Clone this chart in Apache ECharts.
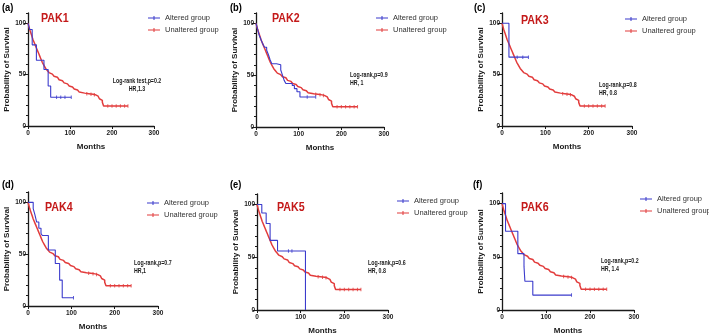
<!DOCTYPE html>
<html>
<head>
<meta charset="utf-8">
<script src="https://cdn.jsdelivr.net/npm/echarts@6/dist/echarts.min.js"></script>
<style>
  html, body, #main { width: 709px; height: 336px; margin: 0; background: #fff; }
</style>
</head>
<body>
<div id="main"></div>
<script>
// unaltered group (same cohort curve in every panel), [month, % surviving]
var unaltered = [
  [0, 100], [2, 97], [4, 94], [6, 91.5], [8, 89], [10, 86.5], [12, 84], [14, 82],
  [16, 80], [18, 78], [20, 76], [22, 74], [24, 72], [26, 70], [28, 68], [30, 66],
  [32, 64], [34, 62], [36, 60.5], [38, 59], [40, 57.5], [42, 56], [44, 55], [46, 54],
  [48, 53], [50, 52], [54, 50.5], [58, 49.5], [62, 48.5], [66, 47.5], [70, 46.5],
  [74, 45], [78, 44], [82, 43], [86, 42], [90, 41], [94, 40], [98, 39], [102, 38],
  [106, 37], [110, 36], [114, 35], [118, 34], [122, 33], [126, 32], [135, 31.5],
  [145, 31], [155, 30.5], [160, 30], [163, 29], [167, 28], [170, 26.5], [174, 25],
  [177, 23], [180, 19.5], [238, 19.5]
];
var unalteredCensored = [[140, 31.5], [150, 31], [158, 30.5], [190, 19.5], [200, 19.5],
  [210, 19.5], [220, 19.5], [230, 19.5], [238, 19.5]];

var alteredPAK1 = [[0, 100], [4, 94], [10, 79], [20, 64], [38, 55], [48, 39], [54, 28], [103, 28]];
var alteredPAK2 = [[0, 100], [4, 94], [8, 88], [12, 84], [16, 80], [20, 77], [25, 74], [29, 70],
  [33, 65], [37, 61], [48, 60], [58, 55], [62, 50], [66, 45], [70, 42], [85, 40], [90, 37],
  [96, 34], [103, 29], [140, 29]];
var alteredPAK3 = [[0, 100], [16, 67], [61, 67]];
var alteredPAK4 = [[0, 100], [12, 94], [16, 88], [20, 81], [25, 75], [30, 70], [33, 68],
  [47, 54], [63, 41], [73, 25], [79, 8], [105, 8]];
var alteredPAK5 = [[0, 100], [11, 92], [21, 82], [30, 66], [47, 56], [111, 56], [111, 0]];
var alteredPAK6 = [[0, 100], [8, 74], [36, 53], [50, 41], [52, 27], [70, 14], [158, 14]];

var censoredPAK1 = [[68, 28], [78, 28], [88, 28], [103, 28]];
var censoredPAK2 = [[120, 29], [140, 29]];
var censoredPAK3 = [[35, 67], [48, 67], [61, 67]];
var censoredPAK4 = [[105, 8]];
var censoredPAK5 = [[72, 56], [80, 56]];
var censoredPAK6 = [[158, 14]];

var genes = ['PAK1', 'PAK2', 'PAK3', 'PAK4', 'PAK5', 'PAK6'];
var tags = ['(a)', '(b)', '(c)', '(d)', '(e)', '(f)'];
var altered = [alteredPAK1, alteredPAK2, alteredPAK3, alteredPAK4, alteredPAK5, alteredPAK6];
var censored = [censoredPAK1, censoredPAK2, censoredPAK3, censoredPAK4, censoredPAK5, censoredPAK6];
var stats = [
  ['Log-rank test,p=0.2', 'HR,1.3'],
  ['Log-rank,p=0.9', 'HR, 1'],
  ['Log-rank,p=0.8', 'HR, 0.8'],
  ['Log-rank,p=0.7', 'HR,1'],
  ['Log-rank,p=0.6', 'HR, 0.8'],
  ['Log-rank,p=0.2', 'HR, 1.4']
];
var xTicks = { min: 0, max: 300, step: 100 };
var yTicks = [0, 50, 100];

// layout of each panel (pixels)
var boxes = [
  { left: 28, top: 13, width: 126, height: 113, tag: [2, 8], gene: [41, 18], leg: [148, 14], st: [137, 81, 'center'] },
  { left: 256, top: 13, width: 128, height: 114, tag: [230, 8], gene: [272, 18], leg: [376, 14], st: [350, 75, 'left'] },
  { left: 502, top: 13, width: 130, height: 113, tag: [474, 8], gene: [521, 20], leg: [625, 15], st: [599, 85, 'left'] },
  { left: 28, top: 192, width: 130, height: 114, tag: [2, 185], gene: [45, 207], leg: [147, 199], st: [134, 263, 'left'] },
  { left: 257, top: 194, width: 131, height: 117, tag: [230, 185], gene: [277, 207], leg: [397, 197], st: [368, 263, 'left'] },
  { left: 502, top: 193, width: 132, height: 117, tag: [473, 185], gene: [521, 207], leg: [640, 195], st: [601, 261, 'left'] }
];

var FONT = "'Liberation Sans', Arial, sans-serif";
var INK = '#1a1a1a';
var BLUE = '#3b3bcc';
var RED = '#e23c3c';
// legend glyph: short line with a small censor tick
var LEG_ICON = 'path://M0,4.5L12,4.5L12,5.5L0,5.5Z M5.5,3L6.5,3L6.5,7L5.5,7Z';

var chart = echarts.init(document.getElementById('main'), null, { renderer: 'canvas' });

var grid = [], xAxis = [], yAxis = [], series = [], legend = [], graphic = [];

boxes.forEach(function (b, i) {
  grid.push({ left: b.left, top: b.top, width: b.width, height: b.height, containLabel: false });
  xAxis.push({
    gridIndex: i, type: 'value', min: xTicks.min, max: xTicks.max, interval: xTicks.step,
    name: 'Months', nameLocation: 'middle', nameGap: 17,
    nameTextStyle: { fontFamily: FONT, fontWeight: 'bold', fontSize: 8, color: INK },
    axisLine: { lineStyle: { color: INK, width: 1.3 } },
    axisTick: { length: 3, lineStyle: { color: INK, width: 1 } },
    axisLabel: { fontFamily: FONT, fontWeight: 'bold', fontSize: 6.5, color: INK, margin: 4 },
    splitLine: { show: false }
  });
  // minor ticks every 10
  yAxis.push({
    gridIndex: i, type: 'value', position: 'left', min: 0, max: 110, interval: 10,
    name: 'Probability of Survival', nameLocation: 'middle', nameGap: 17, nameRotate: 90,
    nameTextStyle: { fontFamily: FONT, fontWeight: 'bold', fontSize: 8, color: INK },
    axisLine: { show: true, lineStyle: { color: INK, width: 1.3 } },
    axisTick: { length: 2, lineStyle: { color: INK, width: 1 } },
    axisLabel: { show: false },
    splitLine: { show: false }
  });
  // major ticks + labels
  yAxis.push({
    gridIndex: i, type: 'value', position: 'left', offset: 0, min: 0, max: 110, interval: 10,
    axisLine: { show: false },
    axisTick: { customValues: yTicks, length: 4, lineStyle: { color: INK, width: 1 } },
    axisLabel: { customValues: yTicks, fontFamily: FONT, fontWeight: 'bold', fontSize: 6.5, color: INK, margin: 2 },
    splitLine: { show: false }
  });

  series.push({
    name: 'Unaltered group', type: 'line', step: 'end', xAxisIndex: i, yAxisIndex: 2 * i,
    data: unaltered, symbol: 'none', lineStyle: { color: RED, width: 1.5 }, itemStyle: { color: RED },
    animation: false
  });
  series.push({
    name: 'Altered group', type: 'line', step: 'end', xAxisIndex: i, yAxisIndex: 2 * i,
    data: altered[i], symbol: 'none', lineStyle: { color: BLUE, width: 1.1 }, itemStyle: { color: BLUE },
    animation: false
  });
  series.push({
    name: 'unaltered censored', type: 'scatter', xAxisIndex: i, yAxisIndex: 2 * i,
    data: unalteredCensored, symbol: 'rect', symbolSize: [1, 3.5], itemStyle: { color: RED },
    silent: true, animation: false
  });
  series.push({
    name: 'altered censored', type: 'scatter', xAxisIndex: i, yAxisIndex: 2 * i,
    data: censored[i], symbol: 'rect', symbolSize: [1, 3.5], itemStyle: { color: BLUE },
    silent: true, animation: false
  });

  legend.push({
    orient: 'vertical', left: b.leg[0], top: b.leg[1], itemGap: 4, itemWidth: 12, itemHeight: 9,
    icon: LEG_ICON,
    data: ['Altered group', 'Unaltered group'],
    textStyle: { fontFamily: FONT, fontSize: 7.5, color: '#333' },
    padding: 0, selectedMode: false
  });

  graphic.push({
    type: 'text', x: b.tag[0], y: b.tag[1], scaleX: 0.85,
    style: { text: tags[i], font: 'bold 11px ' + FONT, fill: '#000', verticalAlign: 'middle' }
  });
  graphic.push({
    type: 'text', x: b.gene[0], y: b.gene[1], scaleX: 0.82,
    style: { text: genes[i], font: 'bold 13px ' + FONT, fill: '#c41a1a', verticalAlign: 'middle' }
  });
  graphic.push({
    type: 'text', x: b.st[0], y: b.st[1], scaleX: 0.66,
    style: { text: stats[i][0], font: 'bold 8px ' + FONT, fill: INK, align: b.st[2], verticalAlign: 'middle' }
  });
  graphic.push({
    type: 'text', x: b.st[0], y: b.st[1] + 8, scaleX: 0.66,
    style: { text: stats[i][1], font: 'bold 8px ' + FONT, fill: INK, align: b.st[2], verticalAlign: 'middle' }
  });
});

chart.setOption({
  animation: false,
  backgroundColor: '#fff',
  grid: grid,
  xAxis: xAxis,
  yAxis: yAxis,
  legend: legend,
  series: series,
  graphic: graphic
});
</script>
</body>
</html>
